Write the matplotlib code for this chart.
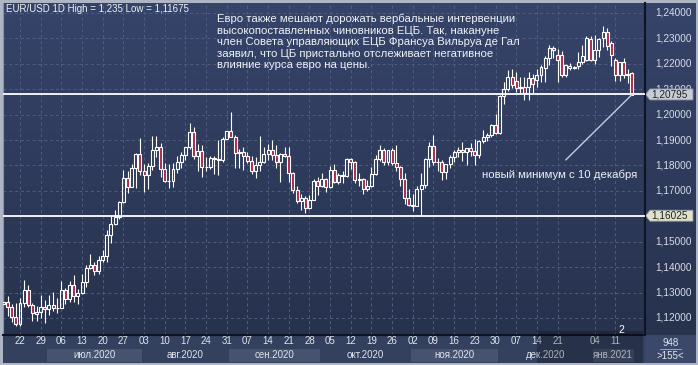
import numpy as np
import pandas as pd
import matplotlib
matplotlib.use("Agg")
import matplotlib.pyplot as plt
from matplotlib.colors import LinearSegmentedColormap
from matplotlib.patches import Polygon, Rectangle

plt.rcParams['font.family'] = ['Liberation Sans', 'DejaVu Sans']

# trading days 16.06.2020 - 15.01.2021 (no candle on 01.01.2021)
dates = pd.bdate_range("2020-06-16", "2021-01-15")
dates = dates[dates != pd.Timestamp("2021-01-01")]

opens = [
    1.1254, 1.1263, 1.1243, 1.1204, 1.1177, 1.1259, 1.1309, 1.1251, 1.1217, 1.1222, 1.1243,
    1.1234, 1.1251, 1.1238, 1.1241, 1.1310, 1.1274, 1.1331, 1.1288, 1.1300, 1.1343, 1.1398, 1.1409,
    1.1383, 1.1428, 1.1444, 1.1527, 1.1568, 1.1596, 1.1655, 1.1752, 1.1716, 1.1792, 1.1846,
    1.1778, 1.1761, 1.1799, 1.1860, 1.1874, 1.1787, 1.1738, 1.1740, 1.1787, 1.1812, 1.1843,
    1.1871, 1.1931, 1.1838, 1.1858, 1.1795, 1.1793, 1.1831, 1.1827, 1.1820, 1.1905,
    1.1936, 1.1912, 1.1850, 1.1853, 1.1838, 1.1818, 1.1780, 1.1800, 1.1812, 1.1845, 1.1860,
    1.1843, 1.1813, 1.1846, 1.1837, 1.1771, 1.1703, 1.1659, 1.1672, 1.1631, 1.1666, 1.1738,
    1.1720, 1.1748, 1.1715, 1.1783, 1.1736, 1.1761, 1.1758, 1.1826, 1.1813, 1.1744, 1.1747,
    1.1706, 1.1718, 1.1768, 1.1827, 1.1862, 1.1815, 1.1859, 1.1810, 1.1794, 1.1746, 1.1673,
    1.1646, 1.1641, 1.1706, 1.1722, 1.1827, 1.1876, 1.1814, 1.1812, 1.1776, 1.1806, 1.1834,
    1.1855, 1.1860, 1.1852, 1.1868, 1.1856, 1.1840, 1.1895, 1.1914, 1.1920, 1.1961,
    1.1927, 1.2072, 1.2101, 1.2148, 1.2132, 1.2105, 1.2110, 1.2109, 1.2144, 1.2136, 1.2156,
    1.2184, 1.2223, 1.2262, 1.2235, 1.2235, 1.2156, 1.2190, 1.2185, 1.2190, 1.2207, 1.2215, 1.2298,
    1.2215, 1.2255, 1.2301, 1.2325, 1.2282, 1.2215, 1.2156, 1.2207, 1.2161, 1.2164,
]
highs = [
    1.1355, 1.1286, 1.1257, 1.1258, 1.1280, 1.1349, 1.1330, 1.1260, 1.1246, 1.1289, 1.1270,
    1.1290, 1.1303, 1.1280, 1.1346, 1.1319, 1.1346, 1.1371, 1.1316, 1.1374, 1.1410, 1.1452, 1.1420,
    1.1445, 1.1468, 1.1546, 1.1601, 1.1625, 1.1659, 1.1781, 1.1777, 1.1807, 1.1850, 1.1909,
    1.1806, 1.1808, 1.1916, 1.1917, 1.1888, 1.1808, 1.1805, 1.1808, 1.1837, 1.1853, 1.1873,
    1.1966, 1.1950, 1.1883, 1.1882, 1.1834, 1.1839, 1.1838, 1.1900, 1.1914, 1.1937,
    1.2011, 1.1919, 1.1866, 1.1873, 1.1852, 1.1837, 1.1833, 1.1917, 1.1872, 1.1883, 1.1900,
    1.1882, 1.1850, 1.1872, 1.1872, 1.1775, 1.1720, 1.1688, 1.1681, 1.1682, 1.1745, 1.1754,
    1.1769, 1.1752, 1.1797, 1.1806, 1.1769, 1.1778, 1.1831, 1.1830, 1.1817, 1.1770, 1.1750,
    1.1743, 1.1794, 1.1840, 1.1881, 1.1868, 1.1860, 1.1870, 1.1881, 1.1799, 1.1770, 1.1707,
    1.1688, 1.1720, 1.1770, 1.1831, 1.1891, 1.1920, 1.1830, 1.1820, 1.1807, 1.1840, 1.1862,
    1.1874, 1.1892, 1.1870, 1.1889, 1.1905, 1.1900, 1.1941, 1.1929, 1.1965, 1.2004,
    1.2077, 1.2128, 1.2176, 1.2178, 1.2167, 1.2148, 1.2148, 1.2166, 1.2160, 1.2178, 1.2196,
    1.2230, 1.2273, 1.2272, 1.2259, 1.2250, 1.2198, 1.2205, 1.2190, 1.2246, 1.2276, 1.2310, 1.2309,
    1.2313, 1.2300, 1.2350, 1.2339, 1.2290, 1.2223, 1.2209, 1.2223, 1.2181, 1.2166,
]
lows = [
    1.1240, 1.1208, 1.1184, 1.1168, 1.1170, 1.1242, 1.1245, 1.1190, 1.1188, 1.1200, 1.1180,
    1.1210, 1.1228, 1.1220, 1.1238, 1.1256, 1.1262, 1.1263, 1.1257, 1.1295, 1.1321, 1.1391, 1.1370,
    1.1375, 1.1419, 1.1422, 1.1497, 1.1564, 1.1590, 1.1654, 1.1690, 1.1715, 1.1711, 1.1761,
    1.1696, 1.1707, 1.1784, 1.1835, 1.1755, 1.1737, 1.1711, 1.1716, 1.1772, 1.1792, 1.1822,
    1.1864, 1.1827, 1.1780, 1.1754, 1.1780, 1.1785, 1.1768, 1.1762, 1.1815, 1.1903,
    1.1914, 1.1789, 1.1789, 1.1782, 1.1811, 1.1767, 1.1752, 1.1780, 1.1809, 1.1822, 1.1823,
    1.1789, 1.1737, 1.1832, 1.1735, 1.1690, 1.1653, 1.1626, 1.1612, 1.1630, 1.1664, 1.1684,
    1.1715, 1.1696, 1.1711, 1.1733, 1.1727, 1.1733, 1.1755, 1.1788, 1.1731, 1.1721, 1.1688,
    1.1701, 1.1717, 1.1761, 1.1819, 1.1800, 1.1802, 1.1803, 1.1780, 1.1718, 1.1649, 1.1640,
    1.1621, 1.1640, 1.1603, 1.1711, 1.1795, 1.1802, 1.1780, 1.1744, 1.1745, 1.1792, 1.1813,
    1.1832, 1.1818, 1.1802, 1.1838, 1.1800, 1.1830, 1.1889, 1.1897, 1.1911, 1.1925,
    1.1924, 1.2040, 1.2095, 1.2105, 1.2089, 1.2087, 1.2058, 1.2058, 1.2080, 1.2110, 1.2127,
    1.2130, 1.2195, 1.2221, 1.2129, 1.2150, 1.2150, 1.2175, 1.2180, 1.2180, 1.2200, 1.2210, 1.2212,
    1.2200, 1.2228, 1.2265, 1.2255, 1.2192, 1.2132, 1.2131, 1.2143, 1.2123, 1.2077,
]
closes = [
    1.1263, 1.1243, 1.1204, 1.1177, 1.1259, 1.1309, 1.1251, 1.1220, 1.1222, 1.1243, 1.1234,
    1.1251, 1.1238, 1.1241, 1.1310, 1.1274, 1.1331, 1.1288, 1.1300, 1.1343, 1.1398, 1.1409, 1.1383,
    1.1428, 1.1444, 1.1527, 1.1568, 1.1596, 1.1655, 1.1752, 1.1716, 1.1792, 1.1846, 1.1778,
    1.1761, 1.1799, 1.1860, 1.1874, 1.1787, 1.1738, 1.1740, 1.1787, 1.1812, 1.1843, 1.1871,
    1.1931, 1.1838, 1.1858, 1.1795, 1.1793, 1.1831, 1.1827, 1.1820, 1.1905, 1.1936,
    1.1912, 1.1850, 1.1853, 1.1838, 1.1818, 1.1780, 1.1800, 1.1812, 1.1845, 1.1860, 1.1843,
    1.1813, 1.1846, 1.1837, 1.1771, 1.1703, 1.1659, 1.1672, 1.1631, 1.1666, 1.1738, 1.1720,
    1.1748, 1.1715, 1.1783, 1.1736, 1.1761, 1.1758, 1.1826, 1.1813, 1.1744, 1.1747, 1.1706,
    1.1718, 1.1768, 1.1827, 1.1862, 1.1815, 1.1859, 1.1810, 1.1794, 1.1746, 1.1673, 1.1646,
    1.1641, 1.1706, 1.1722, 1.1827, 1.1876, 1.1814, 1.1812, 1.1776, 1.1806, 1.1834, 1.1855,
    1.1860, 1.1852, 1.1868, 1.1856, 1.1840, 1.1895, 1.1914, 1.1920, 1.1961, 1.1927,
    1.2072, 1.2101, 1.2148, 1.2115, 1.2105, 1.2110, 1.2085, 1.2144, 1.2120, 1.2156, 1.2188,
    1.2223, 1.2262, 1.2253, 1.2215, 1.2156, 1.2195, 1.2185, 1.2188, 1.2207, 1.2230, 1.2300, 1.2216,
    1.2255, 1.2297, 1.2325, 1.2270, 1.2235, 1.2156, 1.2207, 1.2156, 1.2155, 1.2079,
]

price_ticks = [1.12, 1.13, 1.14, 1.15, 1.16, 1.17, 1.18, 1.19, 1.20, 1.21, 1.22, 1.23, 1.24]
levels = [1.20795, 1.16025]
level_tag_colors = ["#c8ccd4", "#e2e2c8"]
month_labels = {6: "", 7: "июл.2020", 8: "авг.2020", 9: "сен.2020", 10: "окт.2020",
                11: "ноя.2020", 12: "дек.2020", 1: "янв.2021"}
skip_week_labels = [pd.Timestamp("2020-12-28")]

header = "EUR/USD 1D High = 1,235 Low = 1,11675"
comment = ("Евро также мешают дорожать вербальные интервенции\n"
           "высокопоставленных чиновников ЕЦБ. Так, накануне\n"
           "член Совета управляющих ЕЦБ Франсуа Вильруа де Гал\n"
           "заявил, что ЦБ пристально отслеживает негативное\n"
           "влияние курса евро на цены.")
note = "новый минимум с 10 декабря"

o = np.array(opens); h = np.array(highs); l = np.array(lows); c = np.array(closes)
x = np.arange(len(o))

W, H = 698, 365
fig = plt.figure(figsize=(W / 100, H / 100), dpi=100, facecolor="#aeb6c6")

def px_axes(x0, y0, x1, y1, **kw):
    return fig.add_axes([x0 / W, 1 - y1 / H, (x1 - x0) / W, (y1 - y0) / H], **kw)

bg = LinearSegmentedColormap.from_list("bg", ["#27324d", "#36446a"])
grad = np.linspace(0, 1, 256)[:, None]
txt = "#eef1f6"

ax = px_axes(3, 3, 645, 335)
ax.set_zorder(3)
ax.imshow(grad, extent=(0, 1, 0, 1), transform=ax.transAxes, cmap=bg,
          aspect="auto", origin="lower", zorder=0)
ax.set_xlim(-0.11, 155.15)
ax.set_ylim(1.11331, 1.24393)

mondays = [i for i, d in enumerate(dates) if d.weekday() == 0 and d not in skip_week_labels]
ax.set_xticks(mondays)
ax.set_yticks(price_ticks)
ax.tick_params(length=0, labelbottom=False, labelleft=False)
ax.grid(True, color="#4e5d80", ls=(0, (3, 3)), lw=0.7, zorder=1)
for s in ["top"]:
    ax.spines[s].set_visible(False)
ax.spines["left"].set_color("#8a93a8")
ax.spines["bottom"].set_color("#0e1424")
ax.spines["right"].set_color("#0e1424")
ax.spines["bottom"].set_linewidth(1.5)
ax.spines["right"].set_linewidth(1.5)

# candles
up = c >= o
ax.vlines(x, np.maximum(o, c), h, color="white", lw=0.8, zorder=2)
ax.vlines(x, l, np.minimum(o, c), color="white", lw=0.8, zorder=2)
ax.bar(x[up], (c - o)[up], bottom=o[up], width=0.72, facecolor="none",
       edgecolor="white", lw=0.8, zorder=3)
ax.bar(x[~up], (o - c)[~up], bottom=c[~up], width=0.72, facecolor="#aa2646",
       edgecolor="white", lw=0.8, zorder=3)

for v in levels:
    ax.axhline(v, color="white", lw=1.3, zorder=4)

ax.text(0.004, 0.997, header, transform=ax.transAxes, ha="left", va="top",
        fontsize=7, color=txt, zorder=5)
ax.text(0.333, 0.968, comment, transform=ax.transAxes, ha="left", va="top",
        fontsize=8.2, color=txt, linespacing=1.2, zorder=5)
ax.annotate("", xy=(x[-1], c[-1]), xytext=(136, 1.1822),
            arrowprops=dict(arrowstyle="-", color="#c5cce0", lw=1, shrinkA=0, shrinkB=0),
            zorder=5)
ax.text(115.7, 1.1763, note, ha="left", va="center", fontsize=8.2, color=txt, zorder=5)

# date band
ax_d = px_axes(3, 335, 645, 363, sharex=ax)
ax_d.set_facecolor("#33405e")
for s in ax_d.spines.values():
    s.set_visible(False)
ax_d.tick_params(length=0, labelbottom=False, labelleft=False)
ax_d.set_ylim(0, 1)
x0, x1 = ax.get_xlim()
for m in pd.unique(dates.month):
    idx = np.where(dates.month == m)[0]
    a, b = max(idx[0] - 0.5, x0), min(idx[-1] + 0.5, x1)
    if m % 2 == 1:
        ax_d.axvspan(a, b, ymin=0.04, ymax=0.5, color="#46536f", lw=0)
    if month_labels[m]:
        ax_d.text((a + b) / 2, 0.3, month_labels[m], ha="center", va="center",
                  fontsize=7, color="#dfe4ee")
for i in mondays:
    ax_d.text(i, 0.78, dates[i].strftime("%d"), ha="center", va="center",
              fontsize=7, color="#dfe4ee")

# price scale
ax_r = px_axes(645, 3, 696, 335, sharey=ax)
ax_r.imshow(grad, extent=(0, 1, 0, 1), transform=ax_r.transAxes, cmap=bg,
            aspect="auto", origin="lower", zorder=0)
ax_r.set_xlim(0, 51)
ax_r.set_ylim(ax.get_ylim())
for s in ax_r.spines.values():
    s.set_visible(False)
ax_r.tick_params(length=0, labelbottom=False, labelleft=False)
for v in price_ticks:
    ax_r.text(10, v, f"{v:.5f}".replace(".", ","), ha="left", va="center",
              fontsize=7.2, color="#d8dde8")
y0, y1 = ax.get_ylim()
dh = (y1 - y0) / 332 * 5.5
for v, col in zip(levels, level_tag_colors):
    ax_r.add_patch(Polygon([(0.5, v), (5, v + dh), (48, v + dh), (48, v - dh), (5, v - dh)],
                           closed=True, facecolor=col, edgecolor="#8a93a8", lw=0.6, zorder=4))
    ax_r.text(6, v, f"{v:.5f}".replace(".", ","), ha="left", va="center",
              fontsize=7.2, color="#1c1f26", zorder=5)

# corner box
ax_c = px_axes(645, 335, 696, 363)
ax_c.set_facecolor("#3b4869")
for s in ax_c.spines.values():
    s.set_visible(False)
ax_c.set_xticks([]); ax_c.set_yticks([])
ax_c.set_xlim(0, 1); ax_c.set_ylim(0, 1)
ax_c.text(0.5, 0.72, "948", ha="center", va="center", fontsize=7, color="#dfe4ee")
ax_c.plot([0.3, 0.7], [0.5, 0.5], color="#aab3c6", lw=0.6)
ax_c.text(0.5, 0.24, ">155<", ha="center", va="center", fontsize=7, color="#dfe4ee")

fig.add_artist(Rectangle((537 / W, 2 / H), (643 - 537) / W, (363 - 331) / H,
                         transform=fig.transFigure, facecolor="black", alpha=0.22,
                         lw=0, zorder=10))
fig.text(621 / W, 1 - 330 / H, "2", ha="center", va="center", fontsize=7.5,
         color="white", zorder=11)

fig.savefig("out.png", dpi=100, facecolor=fig.get_facecolor())
